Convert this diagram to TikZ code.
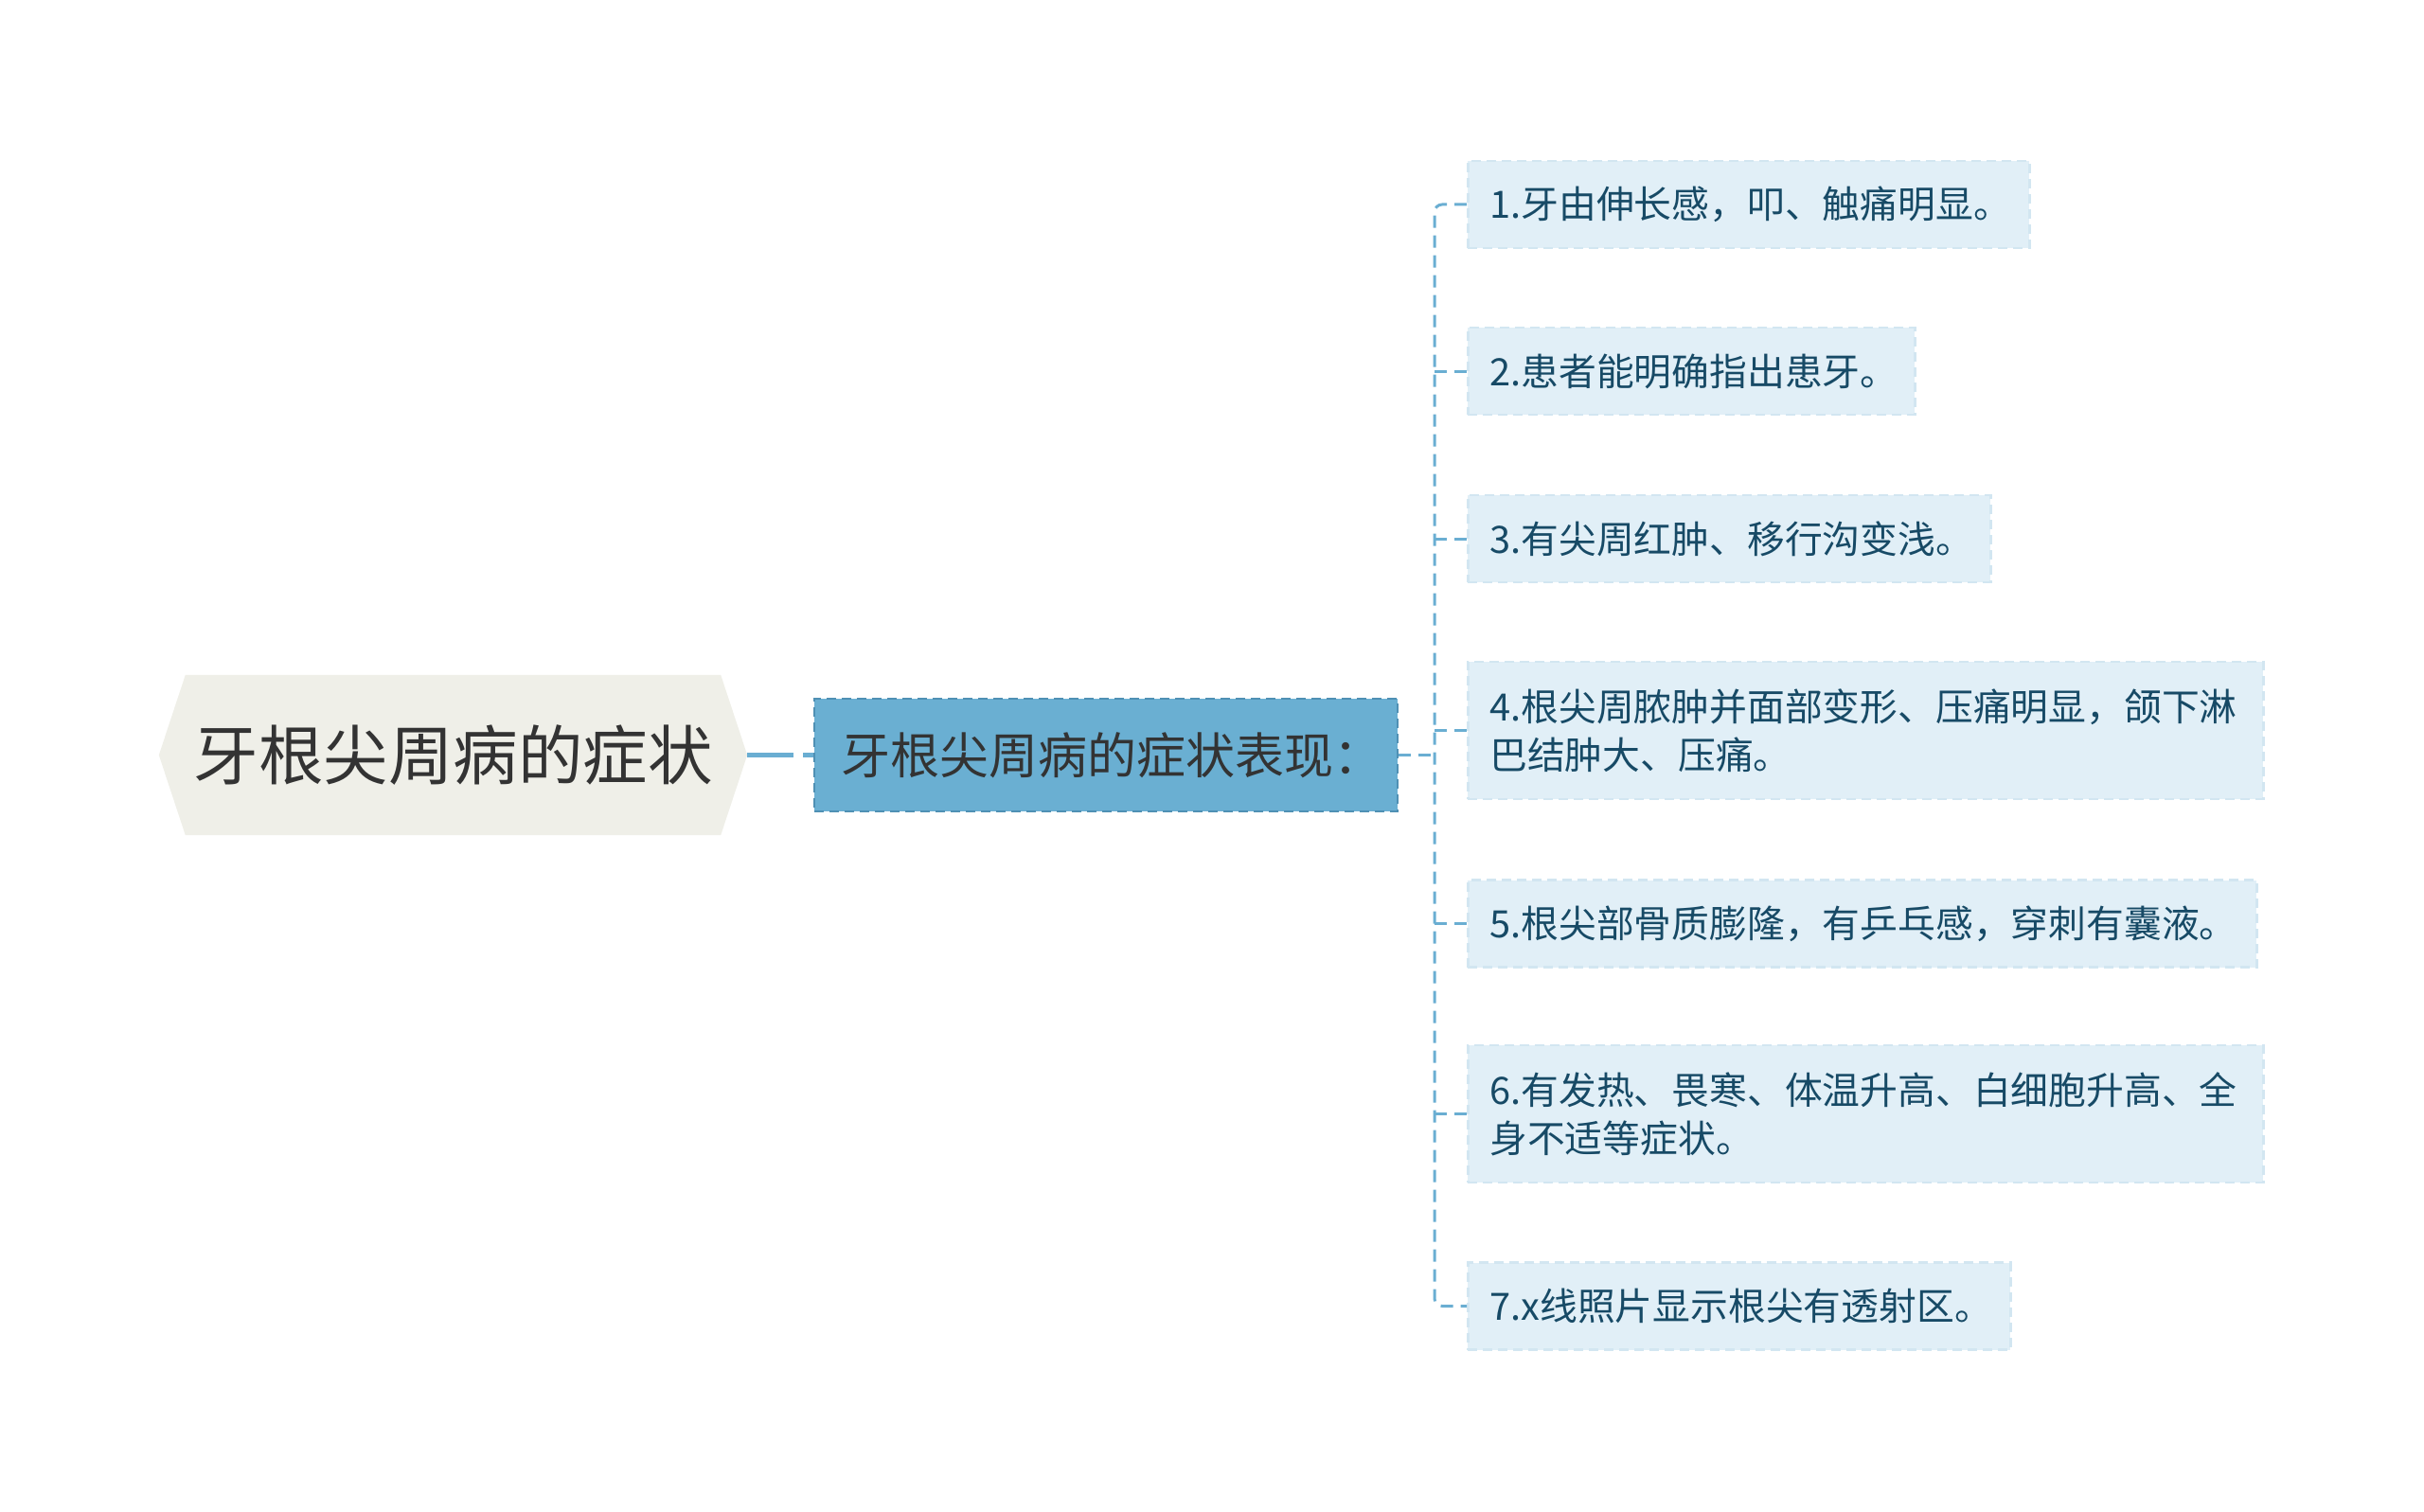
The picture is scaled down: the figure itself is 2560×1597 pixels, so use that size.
\documentclass[tikz,border=0pt]{standalone}
\usepackage{fontspec}
\setmainfont{Noto Sans CJK SC}
\usetikzlibrary{backgrounds}
\definecolor{rootfill}{HTML}{EFEFE8}
\definecolor{roottext}{HTML}{333333}
\definecolor{midfill}{HTML}{6AAFD2}
\definecolor{midborder}{HTML}{4F90B4}
\definecolor{leaffill}{HTML}{E1EFF7}
\definecolor{leafborder}{HTML}{D2E6F1}
\definecolor{leaftext}{HTML}{174A66}
\definecolor{linkc}{HTML}{6AAED2}
\begin{document}
\begin{tikzpicture}[x=1pt,y=-1pt,
  rootnode/.style={minimum width=621pt, minimum height=169pt, inner sep=0pt, text=roottext, font=\fontsize{68.5}{72}\selectfont},
  midnode/.style={draw=midborder, fill=midfill, line width=2.5pt, dash pattern=on 10pt off 6pt, minimum width=616pt, minimum height=119pt, inner xsep=28pt, text width=560pt, align=left, text=roottext, font=\fontsize{52}{56}\selectfont},
  leaf/.style={draw=leafborder, fill=leaffill, line width=2.5pt, dash pattern=on 10pt off 6pt, anchor=west, inner xsep=23pt, minimum height=92pt, align=left, text=leaftext, font=\fontsize{39.8}{51}\selectfont},
  link/.style={draw=linkc, line width=3pt, dash pattern=on 13pt off 8pt},
  rootlink/.style={draw=linkc, line width=5pt, dash pattern=on 49pt off 10pt on 12pt off 0pt}
]
\useasboundingbox (0,0) rectangle (2560,1597);

\node[rootnode] (root) at (478.5,797.5) {牙根尖周病的症状};
\begin{scope}[on background layer]
\fill[rootfill] (root.west) -- ([xshift=28pt]root.north west) -- ([xshift=-28pt]root.north east) -- (root.east) -- ([xshift=-28pt]root.south east) -- ([xshift=28pt]root.south west) -- cycle;
\end{scope}

\node[midnode] (mid) at (1168,797.5) {牙根尖周病的症状表现：};

\node[leaf, text width=547pt] (l1) at (1549,216) {1.牙由伸长感，叩、触痛明显。};
\node[leaf, text width=426pt] (l2) at (1549,392) {2.患者能明确指出患牙。};
\node[leaf, text width=506pt] (l3) at (1549,569) {3.有尖周红肿、移行沟变浅。};
\node[leaf, text width=794pt, minimum height=145pt] (l4) at (1549,771.5) {4.根尖周脓肿并面部变形、压痛明显，颌下淋\\巴结肿大、压痛。};
\node[leaf, text width=787pt] (l5) at (1549,975.5) {5.根尖部骨质膨隆，有乒乓感，穿刺有囊液。};
\node[leaf, text width=794pt, minimum height=145pt] (l6) at (1549,1176.5) {6.有发热、畏寒、体温升高、白细胞升高、全\\身不适等症状。};
\node[leaf, text width=527pt] (l7) at (1549,1379.5) {7.x线照片显示根尖有透射区。};

\coordinate (spx) at (1515,0);
\draw[rootlink] (root.east) -- (mid.west);
\draw[link] (mid.east) -- (mid.east -| spx);
\draw[link, rounded corners=8pt] (l1.west) -- (l1.west -| spx) -- (l7.west -| spx) -- (l7.west);
\foreach \i in {2,...,6} {
  \draw[link] (l\i.west -| spx) -- (l\i.west);
}
\end{tikzpicture}
\end{document}
